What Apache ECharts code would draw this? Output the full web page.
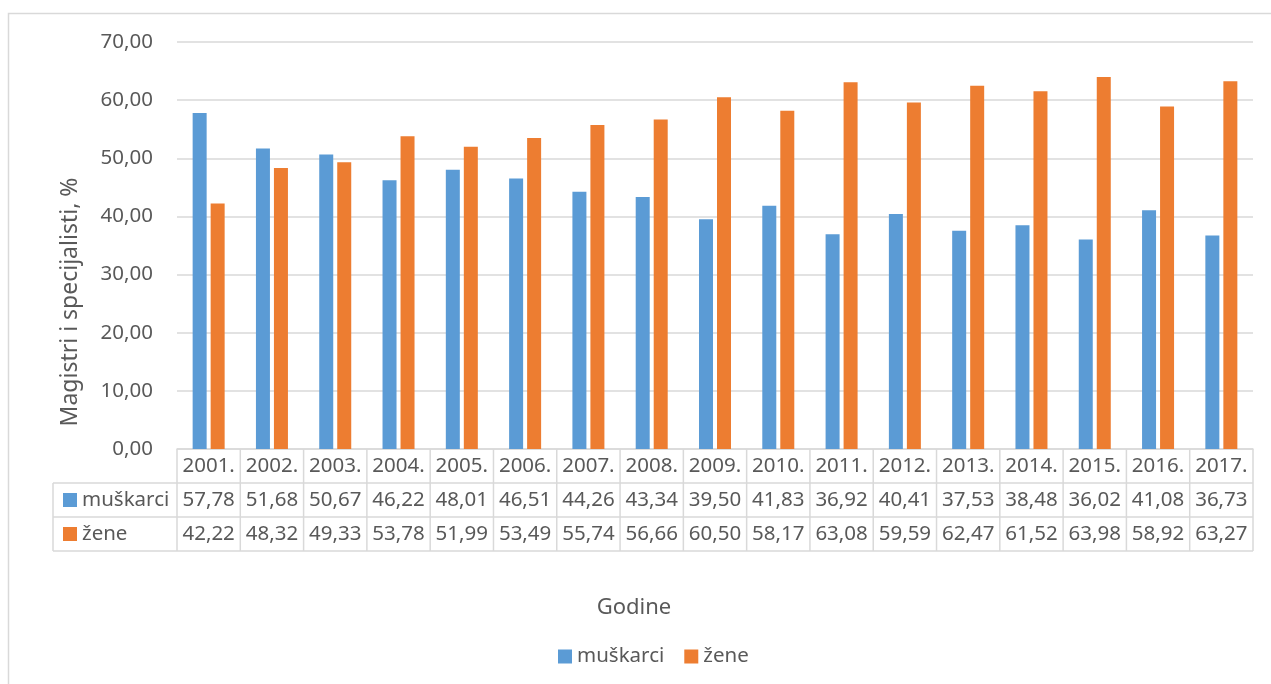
<!DOCTYPE html>
<html>
<head>
<meta charset="utf-8">
<script src="https://cdn.jsdelivr.net/npm/echarts@6/dist/echarts.min.js"></script>
<style>
html,body{margin:0;padding:0;background:#fff;}
#c{width:1271px;height:684px;}
</style>
</head>
<body>
<div id="c"></div>
<script>
const years = ['2001.','2002.','2003.','2004.','2005.','2006.','2007.','2008.','2009.','2010.','2011.','2012.','2013.','2014.','2015.','2016.','2017.'];
const muskarci = [57.78,51.68,50.67,46.22,48.01,46.51,44.26,43.34,39.50,41.83,36.92,40.41,37.53,38.48,36.02,41.08,36.73];
const zene = [42.22,48.32,49.33,53.78,51.99,53.49,55.74,56.66,60.50,58.17,63.08,59.59,62.47,61.52,63.98,58.92,63.27];
const seriesNames = ['muškarci','žene'];
const colors = ['#5b9bd5','#ed7d31'];

const FONT = '"Noto Sans", "Open Sans", sans-serif';
const TXT = '#595959';
const LINE = '#d9d9d9';
const fmt = v => v.toFixed(2).replace('.', ',');

const GL = 177, GR = 18, GT = 42, GB = 684 - 449;
const ROW = 34;
const FS = 20.5;

const chart = echarts.init(document.getElementById('c'));
const option = {
  animation: false,
  textStyle: {fontFamily: FONT},
  grid: {left: GL, right: GR, top: GT, bottom: GB, containLabel: false},
  legend: {
    data: seriesNames,
    top: 641,
    left: 553,
    icon: 'rect',
    itemWidth: 14, itemHeight: 14,
    itemGap: 20,
    textStyle: {fontFamily: FONT, fontSize: FS, color: TXT}
  },
  xAxis: {
    type: 'category',
    data: years,
    axisLine: {show: true, lineStyle: {color: LINE, width: 1.5}},
    axisTick: {show: false},
    axisLabel: {
      margin: 0,
      interval: 0,
      formatter: (v, i) => v + '\n' + fmt(muskarci[i]) + '\n' + fmt(zene[i]),
      lineHeight: ROW,
      fontFamily: FONT, fontSize: FS, color: TXT
    }
  },
  yAxis: {
    type: 'value',
    min: 0, max: 70, interval: 10,
    axisLine: {show: false},
    axisTick: {show: false},
    axisLabel: {formatter: v => fmt(v), fontFamily: FONT, fontSize: FS, color: TXT, margin: 24},
    splitLine: {lineStyle: {color: LINE, width: 1.5}}
  },
  series: [
    {name: seriesNames[0], type: 'bar', data: muskarci, barWidth: 14, barGap: '28.6%', itemStyle: {color: colors[0]}},
    {name: seriesNames[1], type: 'bar', data: zene, barWidth: 14, itemStyle: {color: colors[1]}}
  ]
};
chart.setOption(option);

// table grid lines built from the axis scale
const base = chart.convertToPixel({yAxisIndex: 0}, 0);
const x0 = chart.convertToPixel({xAxisIndex: 0}, 0);
const x1 = chart.convertToPixel({xAxisIndex: 0}, 1);
const bw = x1 - x0;
const left = x0 - bw / 2;
const right = chart.convertToPixel({xAxisIndex: 0}, years.length - 1) + bw / 2;
const tableLeft = 53;
const g = [];
const ls = {stroke: LINE, lineWidth: 1.5};
for (let i = 0; i <= years.length; i++) {
  const x = left + i * bw;
  g.push({type: 'line', shape: {x1: x, y1: base, x2: x, y2: base + 3 * ROW}, style: ls, silent: true});
}
g.push({type: 'line', shape: {x1: tableLeft, y1: base + ROW, x2: tableLeft, y2: base + 3 * ROW}, style: ls});
for (let r = 1; r <= 3; r++) {
  g.push({type: 'line', shape: {x1: tableLeft, y1: base + r * ROW, x2: right, y2: base + r * ROW}, style: ls});
}
seriesNames.forEach((n, k) => {
  const cy = base + ROW * (k + 1) + ROW / 2;
  g.push({type: 'rect', shape: {x: 63, y: cy - 7, width: 14, height: 14}, style: {fill: colors[k]}});
  g.push({type: 'text', x: 82, y: cy, style: {text: n, fill: TXT, font: FS + 'px ' + FONT, textVerticalAlign: 'middle', verticalAlign: 'middle'}});
});
// axis titles
g.push({type: 'text', x: 634, y: 608, style: {text: 'Godine', fill: TXT, font: '22px ' + FONT, align: 'center', verticalAlign: 'middle', textAlign: 'center', textVerticalAlign: 'middle'}});
g.push({type: 'text', x: 70, y: 302, rotation: Math.PI / 2, style: {text: 'Magistri i specijalisti, %', fill: TXT, font: '23px ' + FONT, align: 'center', verticalAlign: 'middle', textAlign: 'center', textVerticalAlign: 'middle'}});
// outer chart border
g.push({type: 'rect', shape: {x: 8.5, y: 13.5, width: 1300, height: 700}, style: {fill: null, stroke: LINE, lineWidth: 1.5}, silent: true, z: -1});
chart.setOption({graphic: g});
</script>
</body>
</html>
